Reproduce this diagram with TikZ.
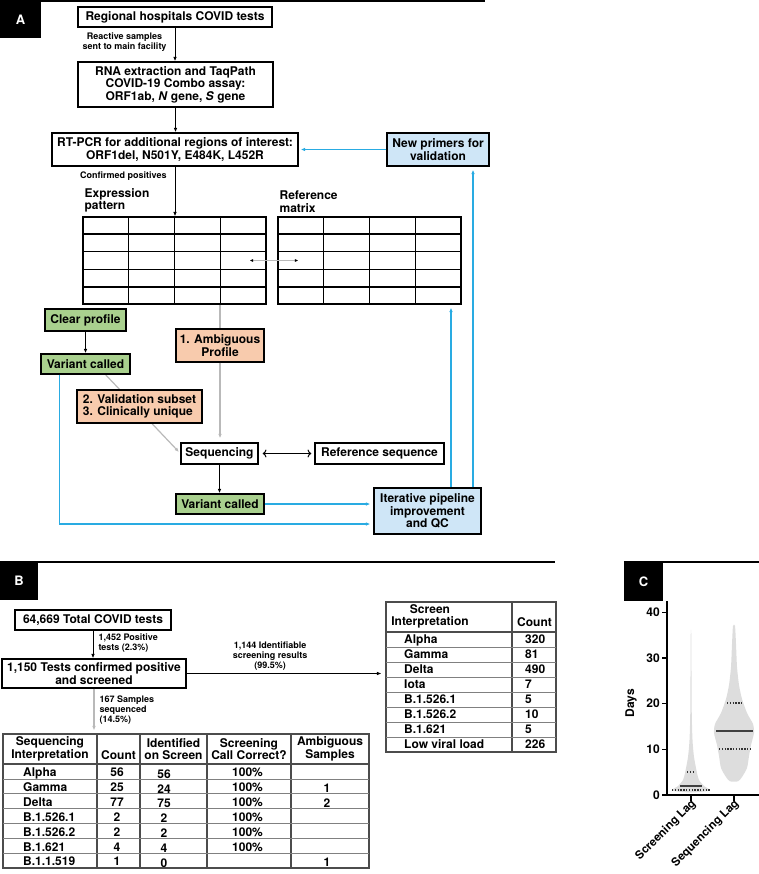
\documentclass[tikz,border=0pt]{standalone}
\usepackage{fontspec}
\setmainfont{TeX Gyre Heros}
\usetikzlibrary{positioning,arrows.meta,backgrounds,calc}
\definecolor{grn}{HTML}{A9D08E}
\definecolor{org}{HTML}{F8CBAD}
\definecolor{lblu}{HTML}{CFE6F7}
\definecolor{cyn}{HTML}{29ABE2}
\definecolor{vio}{HTML}{DDDDDD}
\tikzset{every node/.style={font=\bfseries\fontsize{12}{12.5}\selectfont,inner sep=0pt}}
\tikzset{box/.style={draw,line width=1.3pt,fill=white,align=center}}
\tikzset{gbox/.style={box,fill=grn},obox/.style={box,fill=org},bbox/.style={box,fill=lblu}}
\tikzset{lbl/.style={font=\bfseries\fontsize{9}{10}\selectfont,align=center}}
\tikzset{panel/.style={fill=black,text=white,font=\bfseries\fontsize{13}{13}\selectfont}}
\tikzset{mat/.style={draw,line width=1.2pt,minimum width=183,minimum height=87}}
\tikzset{tbl/.style={draw=black!70,line width=1.1pt}}
\tikzset{trow/.style={draw=black!50,line width=0.7pt}}
\tikzset{th/.style={align=center}}
\tikzset{td/.style={text height=8.6pt,text depth=0pt}}
\tikzset{arr/.style={-{Latex[length=4.5pt,width=3.6pt]},line width=1pt}}
\tikzset{blu/.style={arr,draw=cyn,color=cyn,line width=1.3pt}}
\tikzset{gln/.style={draw=gray!55,line width=1.2pt}}
\tikzset{garr/.style={gln,-{Latex[length=4.5pt,width=3.6pt]}}}
\tikzset{med/.style={draw=black!75,line width=1.8pt}}
\tikzset{qrt/.style={draw=black!80,line width=1.6pt,dash pattern=on 1.4pt off 1.4pt}}

\begin{document}
\begin{tikzpicture}[x=1pt,y=-1pt]
\useasboundingbox (0,0) rectangle (759,874);

% A
\node[panel,minimum width=41,minimum height=37] (pa) at (20.5,19.5) {A};
\draw[line width=1.5pt] (pa.north west) -- ++(485,0);
\node[box,minimum width=194,minimum height=20] (reg) at (175,17) {Regional hospitals COVID tests};
\node[box,minimum width=195,minimum height=45] (rna) at (175.5,84.5) {RNA extraction and TaqPath\\COVID-19 Combo assay:\\ORF1ab, \textit{N} gene, \textit{S} gene};
\node[box,minimum width=246,minimum height=33] (rtpcr) at (175,149.5) {RT-PCR for additional regions of interest:\\ORF1del, N501Y, E484K, L452R};
\node[bbox,minimum width=102,minimum height=33] (newp) at (438,149.5) {New primers for\\validation};
\node[mat] (emat) at (174.5,260.5) {};
\node[mat] (rmat) at (369.5,260.5) {};
\node[anchor=south west,align=left,xshift=2pt,yshift=4pt] (ehdr) at (emat.north west) {Expression\\pattern};
\node[anchor=south west,align=left,xshift=2pt,yshift=4pt] (rhdr) at (rmat.north west) {Reference\\matrix};
\node[gbox,minimum width=81,minimum height=22] (clear) at (85.5,320) {Clear profile};
\node[gbox,minimum width=89,minimum height=20] (var1) at (85.5,364) {Variant called};
\node[obox,minimum width=88,minimum height=33] (amb) at (220,345.5) {1. Ambiguous\\Profile};
\node[obox,minimum width=125,minimum height=33,align=left] (valid) at (139.5,406.5) {2. Validation subset\\3. Clinically unique};
\node[box,minimum width=77,minimum height=21] (seq) at (219.5,453.5) {Sequencing};
\node[box,minimum width=129,minimum height=21] (refseq) at (379.5,453.5) {Reference sequence};
\node[gbox,minimum width=88,minimum height=20] (var2) at (220,504) {Variant called};
\node[bbox,minimum width=107,minimum height=46] (iter) at (427.5,511) {Iterative pipeline\\improvement\\and QC};

\foreach \m in {emat,rmat} {
  \foreach \k in {1,2,3}
    \draw[line width=1.2pt] ($(\m.north west)!\k/4!(\m.north east)$) -- ($(\m.south west)!\k/4!(\m.south east)$);
  \foreach \k in {1,...,4}
    \draw[line width=1.2pt] ($(\m.north west)!\k/5!(\m.south west)$) -- ($(\m.north east)!\k/5!(\m.south east)$);
}

\draw[arr] (reg) -- node[lbl,left=8pt,pos=0.42] (lreact) {Reactive samples\\sent to main facility} (reg |- rna.north);
\draw[arr] (rna) -- (rna |- rtpcr.north);
\draw[arr] (rtpcr) -- node[lbl,left=8pt,pos=0.2] (lconf) {Confirmed positives} (rtpcr |- emat.north);
\draw[gln,{Latex[black,length=3.5pt,width=3pt]}-{Latex[black,length=3.5pt,width=3pt]}] ([xshift=-17pt]emat.east) -- ([xshift=21pt]rmat.west);
\draw[arr] (clear) -- (var1);
\draw[gln] (amb.north |- emat.south) -- (amb.north);
\draw[garr,shorten >=4pt] (amb) -- (amb |- seq.north);
\begin{scope}[on background layer]
\draw[garr,shorten >=2pt] (var1.-28) -- (seq.west);
\end{scope}
\draw[arr,<->,shorten <=4pt,shorten >=3pt] (seq) -- (refseq);
\draw[arr] (seq) -- (seq |- var2.north);

\draw[blu,shorten >=2pt] (newp) -- (newp -| rtpcr.east);
\draw[blu,shorten >=3pt] (var2) -- (var2 -| iter.west);
\draw[blu,shorten >=3pt] ([xshift=19pt]var1.south west) |- ([yshift=-13pt]iter.west);
\coordinate (up1) at ([xshift=23.5pt]iter.north);
\coordinate (up2) at ([xshift=45.5pt]iter.north);
\draw[blu,shorten >=3pt] (up1) -- (up1 |- rmat.south);
\draw[blu,shorten >=3pt] (up2) -- (up2 |- newp.south);

% B
\node[panel,minimum width=38,minimum height=38] (pb) at (19,581) {B};
\draw[line width=1.5pt] (pb.north west) -- ++(555,0);
\node[box,minimum width=156,minimum height=20] (total) at (93,620) {64,669 Total COVID tests};
\node[box,minimum width=184,minimum height=29] (conf) at (94,673.5) {1,150 Tests confirmed positive\\and screened};
\node[tbl,minimum width=366,minimum height=134] (qtab) at (186,801) {};
\node[tbl,minimum width=170,minimum height=150] (stab) at (471,677) {};

\draw[arr] (total) -- node[lbl,align=left,right=5pt,pos=0.44] (lpos) {1,452 Positive\\tests (2.3\%)} (total |- conf.north);
\draw[arr,shorten >=4pt] (conf) -- node[lbl,above=3pt,pos=0.42] (lident) {1,144 Identifiable\\screening results\\(99.5\%)} (conf -| stab.west);
\draw[garr,shorten >=3pt] (conf) -- node[lbl,align=left,right=5pt,pos=0.47] (lsamp) {167 Samples\\sequenced\\(14.5\%)} (conf |- qtab.north);

\foreach \x in {97,140,207,291} \draw[tbl] (\x,734) -- (\x,868);
\draw[tbl] (3,764) -- (369,764);
\foreach \k in {1,...,6} \draw[trow] (3,{764+14.86*\k}) -- (369,{764+14.86*\k});
\node[th] (qh1) at (50,749) {Sequencing\\Interpretation};
\node[th] (qh2) at (118.5,755) {Count};
\node[th] (qh3) at (173.5,749) {Identified\\on Screen};
\node[th] (qh4) at (249,749) {Screening\\Call Correct?};
\node[th] (qh5) at (330,749) {Ambiguous\\Samples};
\foreach [count=\i] \n/\c/\s/\p/\a in {Alpha/56/56/100\%/{},Gamma/25/24/100\%/1,Delta/77/75/100\%/2,B.1.526.1/2/2/100\%/{},B.1.526.2/2/2/100\%/{},B.1.621/4/4/100\%/{},B.1.1.519/1/0/{}/1} {
  \node[td,anchor=west] (qn\i) at (23,{764+14.86*(\i-0.5)+1}) {\n};
  \node[td] (qc\i) at (117,{764+14.86*(\i-0.5)+1}) {\c};
  \node[td] (qs\i) at (164,{764+14.86*(\i-0.5)+2.5}) {\s};
  \node[td] (qp\i) at (247.5,{764+14.86*(\i-0.5)+1}) {\p};
  \node[td] (qa\i) at (327,{764+14.86*(\i-0.5)+2}) {\a};
}

\draw[tbl] (512,602) -- (512,752);
\draw[tbl] (386,632) -- (556,632);
\foreach \k in {1,...,7} \draw[trow] (386,{632+15*\k}) -- (556,{632+15*\k});
\node[th] (sh1) at (430,616.5) {Screen\\Interpretation};
\node[th] (sh2) at (534.5,622) {Count};
\foreach [count=\i] \n/\c in {Alpha/320,Gamma/81,Delta/490,Iota/7,B.1.526.1/5,B.1.526.2/10,B.1.621/5,Low viral load/226} {
  \node[td,anchor=west] (sn\i) at (404,{632+15*(\i-0.5)}) {\n};
  \node[td,anchor=west] (sc\i) at (525,{632+15*(\i-0.5)}) {\c};
}

% C
\node[panel,minimum width=39,minimum height=39] (pc) at (643.5,581.5) {C};
\draw[line width=1.5pt] (pc.north west) -- ++(135,0);
\fill[vio] plot[smooth cycle,tension=0.4] coordinates {(710,790.5) (704,786) (699,780) (697,773) (694,757) (692.5,740) (691.7,710) (691.3,636) (690.7,636) (690.3,710) (689.5,740) (688,757) (685,773) (683,780) (678,786) (672,790.5) (691,792.5)};
\fill[vio] plot[smooth cycle,tension=0.4] coordinates {(738,781.3) (742,777) (747,768) (749,756) (751,745) (754,733) (753,724) (747,713) (742,699) (739,685) (737,667) (736,644) (735,626) (733,626) (732,644) (731,667) (729,685) (726,699) (721,713) (715,724) (714,733) (717,745) (719,756) (721,768) (726,777) (730,781.3)};
\draw[med] (680,786) -- (702,786);
\draw[qrt] (687,772) -- (695,772);
\draw[qrt] (672,790) -- (710,790);
\draw[med] (716,731) -- (753,731);
\draw[qrt] (727,703) -- (742,703);
\draw[qrt] (719,749) -- (750,749);
\draw[line width=1.2pt] (667,601) -- (667,795) -- (759,795);
\foreach \v in {0,10,20,30,40} {
  \draw[line width=1.2pt] (662,{795-4.57*\v}) -- (667,{795-4.57*\v});
  \node[anchor=east] (yt\v) at (660,{795-4.57*\v}) {\v};
}
\node[rotate=90] (days) at (631,703) {Days};
\draw[line width=1.2pt] (691,795) -- (691,801);
\draw[line width=1.2pt] (734,795) -- (734,801);
\node[rotate=45,anchor=east,font=\bfseries\fontsize{11.5}{12}\selectfont] (xl1) at (694,802) {Screening Lag};
\node[rotate=45,anchor=east,font=\bfseries\fontsize{11.5}{12}\selectfont] (xl2) at (737,802) {Sequencing Lag};
\end{tikzpicture}
\end{document}
